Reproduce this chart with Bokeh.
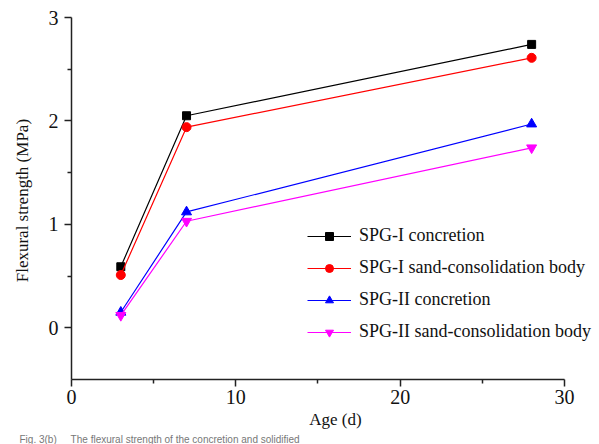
from bokeh.plotting import figure
from bokeh.models import Range1d, FixedTicker, Legend, LegendItem, Title
from bokeh.embed import file_html
from bokeh.resources import INLINE

# ---- data ----
age = [3, 7, 28]
spg1_concretion = [0.59, 2.05, 2.74]
spg1_sand = [0.51, 1.94, 2.61]
spg2_concretion = [0.15, 1.12, 1.97]
spg2_sand = [0.12, 1.03, 1.74]

series_names = ["SPG-I concretion", "SPG-I sand-consolidation body",
                "SPG-II concretion", "SPG-II sand-consolidation body"]
x_ticks = [0, 10, 20, 30]
x_minor = [5, 15, 25]
y_ticks = [0, 1, 2, 3]
y_minor = [0.5, 1.5, 2.5]
caption = "Fig. 3(b)\u00a0\u00a0\u00a0\u00a0\u00a0The flexural strength of the concretion and solidified"

FONT = "Liberation Serif"

# frame runs to the right edge so the legend text is not clipped;
# the x axis itself is bounded to 0..30
p = figure(width=599, height=444, output_backend="svg", toolbar_location=None,
           x_range=Range1d(0, 32.13), y_range=Range1d(-0.5, 3),
           min_border_left=71, min_border_right=0, min_border_top=17, min_border_bottom=65)
p.outline_line_color = None
p.xgrid.visible = False
p.ygrid.visible = False
p.background_fill_color = "white"
p.border_fill_color = "white"

for ax, ticks, minor in ((p.xaxis[0], x_ticks, x_minor), (p.yaxis[0], y_ticks, y_minor)):
    ax.ticker = FixedTicker(ticks=ticks, minor_ticks=minor)
    ax.axis_line_color = "#222222"
    ax.axis_line_width = 1.5
    ax.major_tick_line_color = "#222222"
    ax.major_tick_line_width = 1.5
    ax.minor_tick_line_color = "#222222"
    ax.minor_tick_line_width = 1.5
    ax.major_tick_out = 7
    ax.major_tick_in = 0
    ax.minor_tick_out = 4
    ax.minor_tick_in = 0
    ax.major_label_text_font = FONT
    ax.major_label_text_font_size = "20px"
    ax.major_label_text_color = "#111111"
    ax.axis_label_text_font = FONT
    ax.axis_label_text_font_size = "17px"
    ax.axis_label_text_font_style = "normal"
    ax.axis_label_text_color = "#111111"

p.xaxis.bounds = (0, 30)
p.xaxis.axis_label = "Age (d)"
p.yaxis.axis_label = "Flexural strength  (MPa)"
p.xaxis.major_label_standoff = 3
p.xaxis.axis_label_standoff = 3
p.yaxis.major_label_standoff = 6
p.yaxis.axis_label_standoff = 14

styles = [
    (spg1_concretion, "black", "square", 8),
    (spg1_sand, "red", "circle", 9),
    (spg2_concretion, "blue", "triangle", 10),
    (spg2_sand, "magenta", "inverted_triangle", 10),
]

items = []
for (vals, color, marker, size), name in zip(styles, series_names):
    ln = p.line(age, vals, line_color=color, line_width=1.2)
    sc = p.scatter(age, vals, marker=marker, size=size, fill_color=color, line_color=color)
    items.append(LegendItem(label=name, renderers=[ln, sc]))

legend = Legend(items=items, location=(236, 37))
legend.label_text_font = FONT
legend.label_text_font_size = "18px"
legend.label_text_color = "#111111"
legend.glyph_width = 44
legend.glyph_height = 20
legend.label_height = 20
legend.label_standoff = 8
legend.spacing = 11
legend.padding = 0
legend.margin = 0
legend.border_line_alpha = 0
legend.background_fill_alpha = 0
p.add_layout(legend, "center")

cap = Title(text=caption, align="left", offset=-52, standoff=0,
            text_font="Liberation Sans", text_font_size="10px", text_font_style="normal",
            text_color="#777777")
p.add_layout(cap, "below")

open("out.html", "w").write(file_html(p, INLINE))
